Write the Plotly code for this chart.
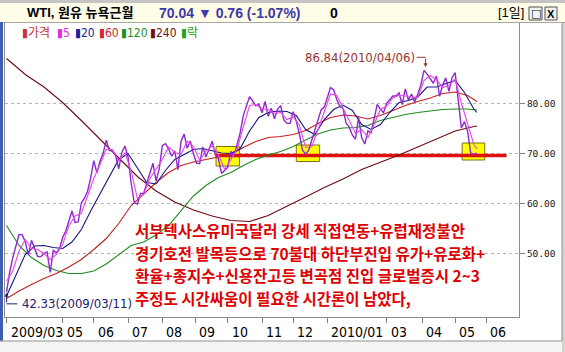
import plotly.graph_objects as go
import pandas as pd

# ---------------- data ----------------
FIRST_DAY, LAST_DAY = "2009-03-11", "2010-05-21"
HOLIDAYS = ["2009-04-10", "2009-05-25", "2009-07-03", "2009-09-07", "2009-11-26",
            "2009-12-25", "2010-01-01", "2010-01-18", "2010-02-15", "2010-04-02",
            "2010-05-31"]

# close price, every 2nd trading day
CLOSE = [42.33, 46.25, 49.16, 51.61, 53.80, 53.77, 52.38, 49.66, 52.64, 51.05,
         49.38, 49.41, 49.98, 50.33, 46.20, 50.62, 50.14, 50.97, 53.20, 54.47,
         56.71, 58.50, 56.16, 56.34, 60.10, 61.05, 62.45, 65.08, 68.58, 66.12,
         68.44, 70.01, 72.68, 70.62, 70.47, 69.55, 66.93, 70.23, 71.49, 69.31,
         64.05, 60.14, 59.89, 62.02, 62.02, 63.98, 66.28, 68.05, 64.50, 66.94,
         71.58, 71.97, 70.93, 69.45, 70.52, 66.75, 72.42, 73.89, 71.05, 72.49,
         69.96, 68.05, 68.02, 71.31, 69.29, 70.93, 72.47, 69.71, 68.97, 66.02,
         66.71, 67.20, 70.41, 69.57, 71.77, 74.15, 77.58, 79.61, 81.37, 80.50,
         79.55, 79.87, 78.13, 80.40, 77.43, 79.05, 76.94, 78.90, 79.58, 76.72,
         76.02, 76.05, 78.37, 76.46, 73.93, 70.67, 69.87, 70.69, 72.66, 74.40,
         76.67, 78.77, 79.28, 81.51, 83.18, 82.75, 80.79, 79.39, 79.02, 76.08,
         75.26, 73.67, 72.89, 77.23, 73.14, 71.89, 74.52, 74.13, 77.33, 79.81,
         78.86, 78.17, 80.05, 80.87, 81.50, 81.49, 82.11, 79.80, 82.93, 80.68,
         81.91, 80.31, 81.83, 83.76, 86.62, 85.88, 84.92, 84.05, 85.51, 81.45,
         83.68, 85.12, 82.44, 85.17, 86.19, 79.97, 75.11, 76.37, 74.41, 70.08,
         69.87, 70.04]
CLOSE_STEP = 2

MA5 = [44.5, 46.5, 50.5, 52.8, 51.0, 50.8, 50.0, 48.8, 49.8, 51.8,
       55.5, 57.5, 58.0, 61.5, 65.0, 67.8, 70.8, 70.8, 68.5, 70.2,
       66.5, 61.0, 61.8, 65.0, 67.0, 68.8, 71.3, 70.2, 69.8, 72.5,
       71.4, 68.6, 70.5, 71.5, 69.8, 66.8, 68.8, 70.8, 75.3, 79.6,
       79.8, 78.9, 78.8, 78.0, 78.2, 76.8, 77.3, 75.7, 71.2, 71.4,
       74.8, 78.4, 81.9, 81.6, 79.2, 76.6, 74.0, 74.8, 73.2, 75.8,
       78.8, 79.5, 81.1, 81.7, 81.5, 81.3, 81.2, 84.6, 85.6, 84.8,
       83.2, 83.6, 84.9, 80.1, 76.0, 71.8, 70.9]
MA5_STEP = 4

MA20 = [41.5, 45.8, 49.8, 51.5, 51.6, 51.2, 51.0, 52.3, 54.8, 58.5,
        62.0, 65.6, 68.8, 70.0, 67.0, 64.2, 63.9, 66.6, 68.8, 69.8,
        70.8, 71.0, 70.6, 70.1, 70.0, 71.0, 74.5, 77.2, 78.2, 78.5,
        78.4, 77.6, 74.8, 73.8, 76.8, 78.8, 79.7, 78.6, 75.8, 74.8,
        75.8, 78.2, 80.2, 80.6, 81.3, 83.3, 83.3, 84.0, 84.6, 82.2,
        78.9, 78.2]
MA20_STEP = 6

MA60 = [41.0, 42.5, 43.8, 45.0, 46.0, 47.3, 48.8, 50.8, 53.0, 56.0,
        59.6, 62.0, 64.2, 66.2, 67.6, 68.3, 68.8, 69.3, 69.8, 71.2,
        72.4, 73.2, 73.4, 73.8, 74.6, 76.0, 77.2, 77.7, 77.5, 76.9,
        77.6, 78.6, 79.6, 80.4, 81.1, 82.0, 82.3, 81.6, 80.4]
MA60_STEP = 8

MA120 = [55.6, 51.6, 49.2, 47.6, 46.6, 46.0, 46.0, 46.5, 47.9, 49.8,
         51.6, 52.3, 53.7, 55.6, 58.6, 61.5, 63.6, 65.2, 66.2, 67.6,
         68.8, 69.7, 70.4, 71.4, 72.7, 73.9, 74.7, 75.1, 75.2, 75.6,
         76.6, 77.2, 77.8, 78.2, 78.5, 78.8, 78.9, 78.9, 78.7]
MA120_STEP = 8

MA240 = [89.0, 85.8, 83.3, 80.2, 76.6, 72.8, 69.0, 65.4, 62.5, 60.3,
         58.7, 57.5, 56.6, 56.4, 57.6, 59.4, 61.3, 63.2, 64.9, 66.8,
         68.2, 69.7, 71.3, 72.9, 74.5, 75.4, 75.5]
MA240_STEP = 12

TICK_DATES = ["2009-03-11", "2009-05-01", "2009-06-01", "2009-07-01", "2009-08-03",
              "2009-09-01", "2009-10-01", "2009-11-02", "2009-12-01", "2010-01-04",
              "2010-03-01", "2010-04-01", "2010-05-03", "2010-06-01"]
TICK_LABELS = ["2009/03", "05", "06", "07", "08", "09", "10", "11", "12",
               "2010/01", "03", "04", "05", "06"]
Y_TICKS = [50, 60, 70, 80]

LEGEND_NAMES = ["가격", "5", "20", "60", "120", "240", "락"]
LEGEND_COLORS = ["#C8323C", "#E02CE0", "#1C1CA0", "#D02828", "#209020", "#701010", "#20A020"]

TITLE_NAME = "WTI, 원유 뉴욕근월"
TITLE_QUOTE = "70.04 ▼ 0.76 (-1.07%)"
TITLE_VOL = "0"
PERIOD = "[1일]"

PEAK = ("2010-04-06", 86.84)
TROUGH = ("2009-03-11", 42.33)
SUPPORT = 69.6
SUPPORT_SPAN = ("2009-09-21 12:00", "2010-06-18")
BOXES = [("2009-09-21 12:00", "2009-10-12 12:00", 67.5, 71.4),
         ("2009-12-03", "2009-12-24", 68.4, 71.7),
         ("2010-05-07 12:00", "2010-05-28", 68.7, 72.1)]

COMMENT = ["서부텍사스유미국달러 강세 직접연동+유럽재정불안",
           "경기호전 발목등으로 70불대 하단부진입 유가+유로화+",
           "환율+종지수+신용잔고등 변곡점 진입 글로벌증시 2~3",
           "주정도 시간싸움이 필요한 시간론이 남았다,"]

# ---------------- figure ----------------
W, H = 565, 352
ML, MR, MT, MB = 5, 46, 23, 35
PW, PH = W - ML - MR, H - MT - MB


def px(x):
    return (x - ML) / PW


def py(y):
    return 1 - (y - MT) / PH


days = pd.bdate_range(FIRST_DAY, LAST_DAY, freq="C", holidays=HOLIDAYS)
n = len(days)


def xs_for(values, step):
    idx = list(range(0, n, step))
    if idx[-1] != n - 1:
        idx.append(n - 1)
    idx = idx[:len(values)]
    return [days[i] for i in idx], values[:len(idx)]


NARROW = "Liberation Sans Narrow, DejaVu Sans Condensed, Liberation Sans, Noto Sans CJK KR, sans-serif"
fig = go.Figure()

series = [
    (MA240, MA240_STEP, "#6E0A14", "240", 1.1),
    (MA120, MA120_STEP, "#1E8C1E", "120", 1.1),
    (MA60, MA60_STEP, "#C81E1E", "60", 1.1),
    (MA20, MA20_STEP, "#14148C", "20", 1.1),
    (CLOSE, CLOSE_STEP, "#9028D0", "가격", 1.4),
    (MA5, MA5_STEP, "#EE44EE", "5", 1.1),
]
for vals, step, col, name, wd in series:
    x, y = xs_for(vals, step)
    fig.add_trace(go.Scatter(x=x, y=y, mode="lines", name=name,
                             line=dict(color=col, width=wd), hoverinfo="skip",
                             showlegend=False))

shapes = []
# window chrome
shapes.append(dict(type="rect", xref="paper", yref="paper", x0=px(0), x1=px(W), y0=py(23), y1=py(0),
                   fillcolor="#FFFDE8", line=dict(width=0), layer="below"))
shapes.append(dict(type="rect", xref="paper", yref="paper", x0=px(0), x1=px(W), y0=py(3), y1=py(0),
                   fillcolor="#C4C4C4", line=dict(width=0), layer="below"))
shapes.append(dict(type="line", xref="paper", yref="paper", x0=px(0), x1=px(W), y0=py(22.5), y1=py(22.5),
                   line=dict(color="#A8A8A8", width=1)))
shapes.append(dict(type="rect", xref="paper", yref="paper", x0=px(0), x1=px(3), y0=py(341), y1=py(22),
                   fillcolor="#3C5FB0", line=dict(width=0)))
shapes.append(dict(type="rect", xref="paper", yref="paper", x0=px(562), x1=px(W), y0=py(H), y1=py(23),
                   fillcolor="#D6D3CE", line=dict(width=0)))
shapes.append(dict(type="line", xref="paper", yref="paper", x0=px(562), x1=px(562), y0=py(341), y1=py(23),
                   line=dict(color="#909090", width=1)))
shapes.append(dict(type="rect", xref="paper", yref="paper", x0=px(0), x1=px(562), y0=py(H), y1=py(341),
                   fillcolor="#F4F4F4", line=dict(width=0)))
shapes.append(dict(type="line", xref="paper", yref="paper", x0=px(0), x1=px(562), y0=py(341), y1=py(341),
                   line=dict(color="#909090", width=1)))
# title bar buttons
for bx0, bx1 in [(529, 542), (545, 557)]:
    shapes.append(dict(type="rect", xref="paper", yref="paper", x0=px(bx0), x1=px(bx1), y0=py(20), y1=py(7),
                       fillcolor="#F4F4F4", line=dict(color="#505050", width=1)))

# highlight boxes + support line
for d0, d1, v0, v1 in BOXES:
    shapes.append(dict(type="rect", xref="x", yref="y", x0=d0, x1=d1, y0=v0, y1=v1,
                       fillcolor="#FFFF00", line=dict(color="#7A6E1E", width=1), layer="between"))
shapes.append(dict(type="line", xref="x", yref="y", x0=SUPPORT_SPAN[0], x1=SUPPORT_SPAN[1],
                   y0=SUPPORT, y1=SUPPORT, line=dict(color="#E01010", width=3.5), layer="between"))

# peak / trough connectors
shapes.append(dict(type="line", xref="x", yref="y", xsizemode="pixel", ysizemode="pixel",
                   xanchor=PEAK[0], yanchor=PEAK[1], x0=-9, x1=0, y0=12, y1=12,
                   line=dict(color="#A03030", width=1)))
shapes.append(dict(type="line", xref="x", yref="y", xsizemode="pixel", ysizemode="pixel",
                   xanchor=TROUGH[0], yanchor=TROUGH[1], x0=0, x1=11, y0=-12, y1=-12,
                   line=dict(color="#202070", width=1)))

ann = []
# title texts
ann.append(dict(xref="paper", yref="paper", x=px(25), y=py(13), xanchor="left", yanchor="middle",
                text="<b>" + TITLE_NAME + "</b>", showarrow=False,
                font=dict(family="Liberation Sans, Noto Sans CJK KR", size=13, color="#000000")))
ann.append(dict(xref="paper", yref="paper", x=px(157), y=py(13), xanchor="left", yanchor="middle",
                text="<b>" + TITLE_QUOTE + "</b>", showarrow=False,
                font=dict(family="Liberation Sans, DejaVu Sans", size=14, color="#3A3AA8")))
ann.append(dict(xref="paper", yref="paper", x=px(328), y=py(13), xanchor="left", yanchor="middle",
                text="<b>" + TITLE_VOL + "</b>", showarrow=False,
                font=dict(family="Liberation Sans", size=14, color="#000000")))
ann.append(dict(xref="paper", yref="paper", x=px(496), y=py(13), xanchor="left", yanchor="middle",
                text=PERIOD, showarrow=False,
                font=dict(family="Liberation Sans, Noto Sans CJK KR", size=13, color="#000000")))
ann.append(dict(xref="paper", yref="paper", x=px(535.5), y=py(13.5), xanchor="center", yanchor="middle",
                text="□", showarrow=False, font=dict(family="DejaVu Sans", size=11, color="#000000")))
ann.append(dict(xref="paper", yref="paper", x=px(551), y=py(13.5), xanchor="center", yanchor="middle",
                text="<b>X</b>", showarrow=False, font=dict(family="Liberation Sans", size=11, color="#000000")))

# legend row
LEG_X = [20, 55, 73, 97, 119, 148, 179]
for name, col, lx in zip(LEGEND_NAMES, LEGEND_COLORS, LEG_X):
    ann.append(dict(xref="paper", yref="paper", x=px(lx), y=py(33), xanchor="left", yanchor="middle",
                    text="▮" + name, showarrow=False,
                    font=dict(family=NARROW, size=12, color=col)))

# x tick labels
for d, lab in zip(TICK_DATES, TICK_LABELS):
    ann.append(dict(xref="x", yref="paper", x=d, y=py(332), xanchor="left", yanchor="middle",
                    xshift=2, text=lab, showarrow=False,
                    font=dict(family=NARROW, size=14, color="#000000")))

# peak annotation
ann.append(dict(xref="x", yref="y", x=PEAK[0], y=PEAK[1], xanchor="right", yanchor="middle",
                xshift=-9, yshift=12, text=f"{PEAK[1]:.2f}({PEAK[0].replace('-', '/')})",
                showarrow=False, font=dict(family=NARROW, size=13, color="#A03030")))
ann.append(dict(xref="x", yref="y", x=PEAK[0], y=PEAK[1], ax=0, ay=-12, axref="pixel", ayref="pixel",
                text="", showarrow=True, arrowhead=2, arrowsize=0.8, arrowwidth=1,
                arrowcolor="#A03030", standoff=2))
# trough annotation
ann.append(dict(xref="x", yref="y", x=TROUGH[0], y=TROUGH[1], xanchor="left", yanchor="middle",
                xshift=13, yshift=-12, text=f"{TROUGH[1]:.2f}({TROUGH[0].replace('-', '/')})",
                showarrow=False, font=dict(family=NARROW, size=13, color="#202070")))
ann.append(dict(xref="x", yref="y", x=TROUGH[0], y=TROUGH[1], ax=0, ay=12,
                text="", showarrow=True, arrowhead=2, arrowsize=0.8, arrowwidth=1,
                arrowcolor="#202070", standoff=1))

# comment text: one annotation per line, spaced so the line boxes do not collide
CFS = 15.5
CSTEP = 22.5
for i, line in enumerate(COMMENT):
    ann.append(dict(xref="paper", yref="paper", x=px(133), y=py(264 + (i - 1.5) * CSTEP),
                    xanchor="left", yanchor="middle", text="<b>" + line + "</b>", showarrow=False,
                    font=dict(family="Noto Sans CJK KR", size=CFS, color="#E00000")))

fig.update_layout(
    width=W, height=H, margin=dict(l=ML, r=MR, t=MT, b=MB, pad=0),
    paper_bgcolor="#FFFFFF", plot_bgcolor="#FFFFFF",
    shapes=shapes, annotations=ann, showlegend=False, hovermode=False,
    xaxis=dict(type="date", range=["2009-03-10", "2010-06-30"],
               rangebreaks=[dict(bounds=["sat", "mon"]), dict(values=HOLIDAYS)],
               tickvals=TICK_DATES, showticklabels=False, ticks="outside", ticklen=5,
               tickcolor="#808080", showgrid=False, zeroline=False,
               showline=True, mirror=True, linecolor="#8C8C8C", linewidth=1),
    yaxis=dict(side="right", range=[37.3, 96.1], tickvals=Y_TICKS, tickformat=".2f",
               ticks="outside", ticklen=5, tickcolor="#808080",
               tickfont=dict(family="DejaVu Sans Mono", size=9.5, color="#202020"),
               showgrid=True, gridcolor="#B4B4B4", griddash="3px,3px", gridwidth=1,
               zeroline=False, showline=True, mirror=True, linecolor="#8C8C8C", linewidth=1),
)

fig.write_html("out.html", config=dict(displayModeBar=False, staticPlot=True))
